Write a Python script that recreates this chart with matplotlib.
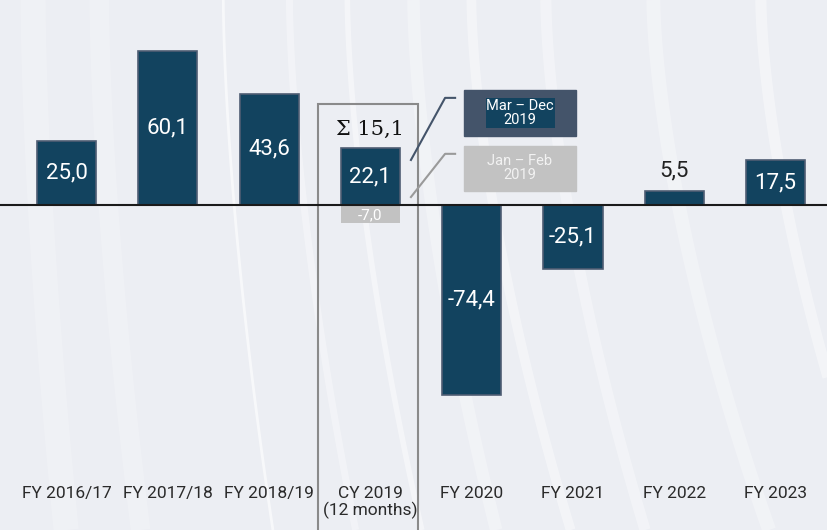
import matplotlib.pyplot as plt
import numpy as np

# data
categories = ["FY 2016/17", "FY 2017/18", "FY 2018/19", "CY 2019\n(12 months)",
              "FY 2020", "FY 2021", "FY 2022", "FY 2023"]
values = [25.0, 60.1, 43.6, 22.1, -74.4, -25.1, 5.5, 17.5]
jan_feb_2019 = -7.0
cy2019_total = 15.1
cy_idx = 3

NAVY = "#12435f"
EDGE = "#4f5d73"
GREY = "#c2c2c2"
CALLOUT = "#44546a"


def fmt(v):
    return ("%.1f" % v).replace(".", ",")


plt.rcParams["font.family"] = ["Roboto", "DejaVu Sans"]

fig = plt.figure(figsize=(8.27, 5.30), dpi=100)
fig.patch.set_facecolor("#eceef3")
ax = fig.add_axes([0, 0, 1, 1])
ax.set_facecolor("none")
ax.set_xlim(-0.6565, 7.507)
ax.set_ylim(-127.2, 80.2)
ax.axis("off")

# decorative background streaks (figure coords)
bg = fig.add_axes([0, 0, 1, 1], zorder=-1)
bg.set_xlim(0, 1)
bg.set_ylim(0, 1)
bg.axis("off")
t = np.linspace(0, 1, 50)
for x0, shift, lw, a in [(0.27, 0.06, 2, 0.6), (0.35, 0.08, 5, 0.35), (0.42, 0.09, 4, 0.45),
                         (0.50, 0.10, 9, 0.3), (0.57, 0.12, 7, 0.4), (0.66, 0.12, 8, 0.35),
                         (0.79, 0.14, 10, 0.3), (0.92, 0.14, 8, 0.4), (0.12, 0.05, 14, 0.2),
                         (0.04, 0.04, 18, 0.2)]:
    bg.plot(x0 + shift * t ** 1.6, 1 - t, color="white", lw=lw, alpha=a, solid_capstyle="butt")

x = np.arange(len(categories))
bw = 0.583

# CY 2019 frame
ax.add_patch(plt.Rectangle((cy_idx - 0.517, -140), 0.987, 39.5 + 140,
                           fill=False, ec="#8a8a8a", lw=1.5, zorder=1))

ax.bar(x, values, width=bw, color=NAVY, edgecolor=EDGE, linewidth=1.2, zorder=2)
ax.bar(cy_idx, jan_feb_2019, width=bw, color=GREY, edgecolor="none", zorder=2)
ax.axhline(0, color="#1a1a1a", lw=1.5, zorder=3)

for xi, v in zip(x, values):
    if abs(v) < 10:
        ax.text(xi, v + 8, fmt(v), ha="center", va="center", fontsize=16,
                color="#222222", zorder=4)
    else:
        ax.text(xi, v / 2, fmt(v), ha="center", va="center", fontsize=16,
                color="white", zorder=4)
ax.text(cy_idx, jan_feb_2019 / 2 - 0.5, fmt(jan_feb_2019), ha="center", va="center",
        fontsize=11, color="white", zorder=4)
ax.text(cy_idx, 29.5, "\u03a3 " + fmt(cy2019_total), ha="center", va="center",
        fontsize=15, color="#111111", family=["DejaVu Serif"], zorder=4)

# callouts
cx0, cx1 = cy_idx + 0.924, cy_idx + 2.03
ax.add_patch(plt.Rectangle((cx0, 27.0), cx1 - cx0, 18.0, color=CALLOUT, zorder=3))
ax.add_patch(plt.Rectangle((cx0, 5.5), cx1 - cx0, 17.6, color=GREY, zorder=3))
ax.text((cx0 + cx1) / 2, 36.0, "Mar \u2013 Dec\n2019", ha="center", va="center",
        fontsize=10.5, color="white", linespacing=1.0, zorder=4,
        bbox=dict(boxstyle="square,pad=0.05", fc=NAVY, ec="none"))
ax.text((cx0 + cx1) / 2, 14.3, "Jan \u2013 Feb\n2019", ha="center", va="center",
        fontsize=10.5, color="#f2f2f2", linespacing=1.0, zorder=4)
ax.plot([cy_idx + 0.40, cy_idx + 0.737, cy_idx + 0.836], [17.6, 41.9, 41.9],
        color=CALLOUT, lw=1.5, zorder=4)
ax.plot([cy_idx + 0.40, cy_idx + 0.737, cy_idx + 0.836], [3.1, 20.0, 20.0],
        color="#9a9a9a", lw=1.5, zorder=4)

# category labels
for xi, c in zip(x, categories):
    ax.text(xi, -110, c, ha="center", va="top", fontsize=12.5, color="#2a2a2a",
            linespacing=1.05, zorder=4)

fig.savefig("out.png", dpi=100, facecolor=fig.get_facecolor())
